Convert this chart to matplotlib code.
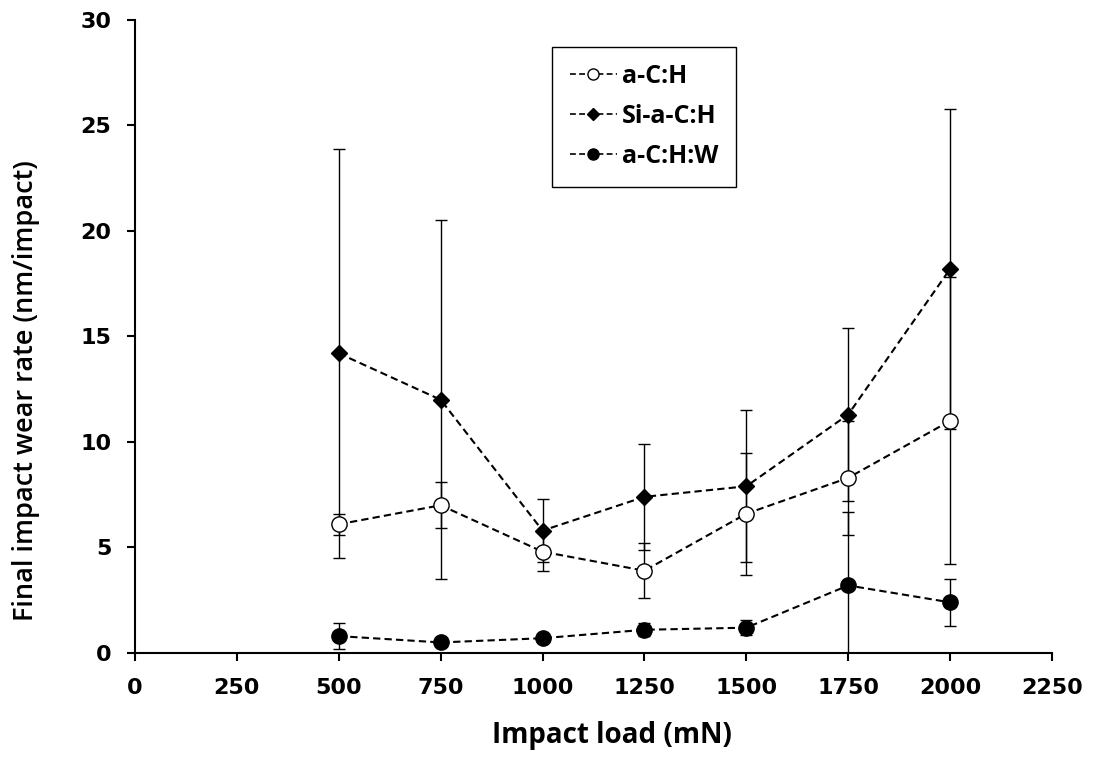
import numpy as np
import matplotlib.pyplot as plt
from matplotlib.lines import Line2D

load = [500, 750, 1000, 1250, 1500, 1750, 2000]

ach = [6.1, 7.0, 4.8, 3.9, 6.6, 8.3, 11.0]
ach_err = [0.5, 1.1, 0.9, 1.3, 2.9, 2.7, 6.8]

si_ach = [14.2, 12.0, 5.8, 7.4, 7.9, 11.3, 18.2]
si_ach_err = [9.7, 8.5, 1.5, 2.5, 3.6, 4.1, 7.6]

achw = [0.8, 0.5, 0.7, 1.1, 1.2, 3.2, 2.4]
achw_err = [0.6, 0.1, 0.1, 0.3, 0.35, 3.5, 1.1]

names = ['a-C:H', 'Si-a-C:H', 'a-C:H:W']

fig = plt.figure(figsize=(10.93, 7.6), dpi=100)
ax = fig.add_axes([0.1235, 0.1408, 0.839, 0.833])

dash = (0, (3.5, 2))
common = dict(color='black', ls=dash, lw=1.5, ecolor='black',
              elinewidth=1.0, capsize=4, capthick=1.0)
ax.errorbar(load, ach, yerr=ach_err, marker='o', ms=11, mfc='white',
            mec='black', mew=1.0, **common)
ax.errorbar(load, si_ach, yerr=si_ach_err, marker='D', ms=8, mfc='black',
            mec='black', **common)
ax.errorbar(load, achw, yerr=achw_err, marker='o', ms=11, mfc='black',
            mec='black', **common)

ax.set_xlim(0, 2250)
ax.set_ylim(0, 30)
ax.set_xticks(np.arange(0, 2251, 250))
ax.set_yticks(np.arange(0, 31, 5))
for s in ['top', 'right']:
    ax.spines[s].set_visible(False)
for s in ['left', 'bottom']:
    ax.spines[s].set_linewidth(1.5)
ax.tick_params(direction='out', length=6, width=1.5, labelsize=16)
ax.tick_params(axis='x', pad=12)
ax.tick_params(axis='y', pad=11)
for lab in ax.get_xticklabels() + ax.get_yticklabels():
    lab.set_fontweight('bold')
    lab.set_family('DejaVu Sans')

ax.set_xlabel('Impact load (mN)', fontsize=20, fontweight='bold',
              family='Open Sans')
ax.set_ylabel('Final impact wear rate (nm/impact)', fontsize=19.5,
              fontweight='semibold', family='Open Sans')
ax.xaxis.set_label_coords(0.52, -0.108)
ax.yaxis.set_label_coords(-0.104, 0.415)

# legend entries without the error bar glyphs
handles = [
    Line2D([], [], color='black', ls=dash, lw=1.2, marker='o', ms=8,
           mfc='white', mec='black'),
    Line2D([], [], color='black', ls=dash, lw=1.2, marker='D', ms=6,
           mfc='black', mec='black'),
    Line2D([], [], color='black', ls=dash, lw=1.2, marker='o', ms=8,
           mfc='black', mec='black'),
]
leg = ax.legend(handles, names, loc='upper left',
                bbox_to_anchor=(0.455, 0.958),
                fancybox=False, edgecolor='black', framealpha=1,
                prop={'family': 'Open Sans', 'weight': 'bold', 'size': 18},
                handlelength=1.9, borderpad=0.7, labelspacing=0.6,
                handletextpad=0.2, borderaxespad=0)
leg.get_frame().set_linewidth(1.0)

fig.savefig('out.png', dpi=100)
